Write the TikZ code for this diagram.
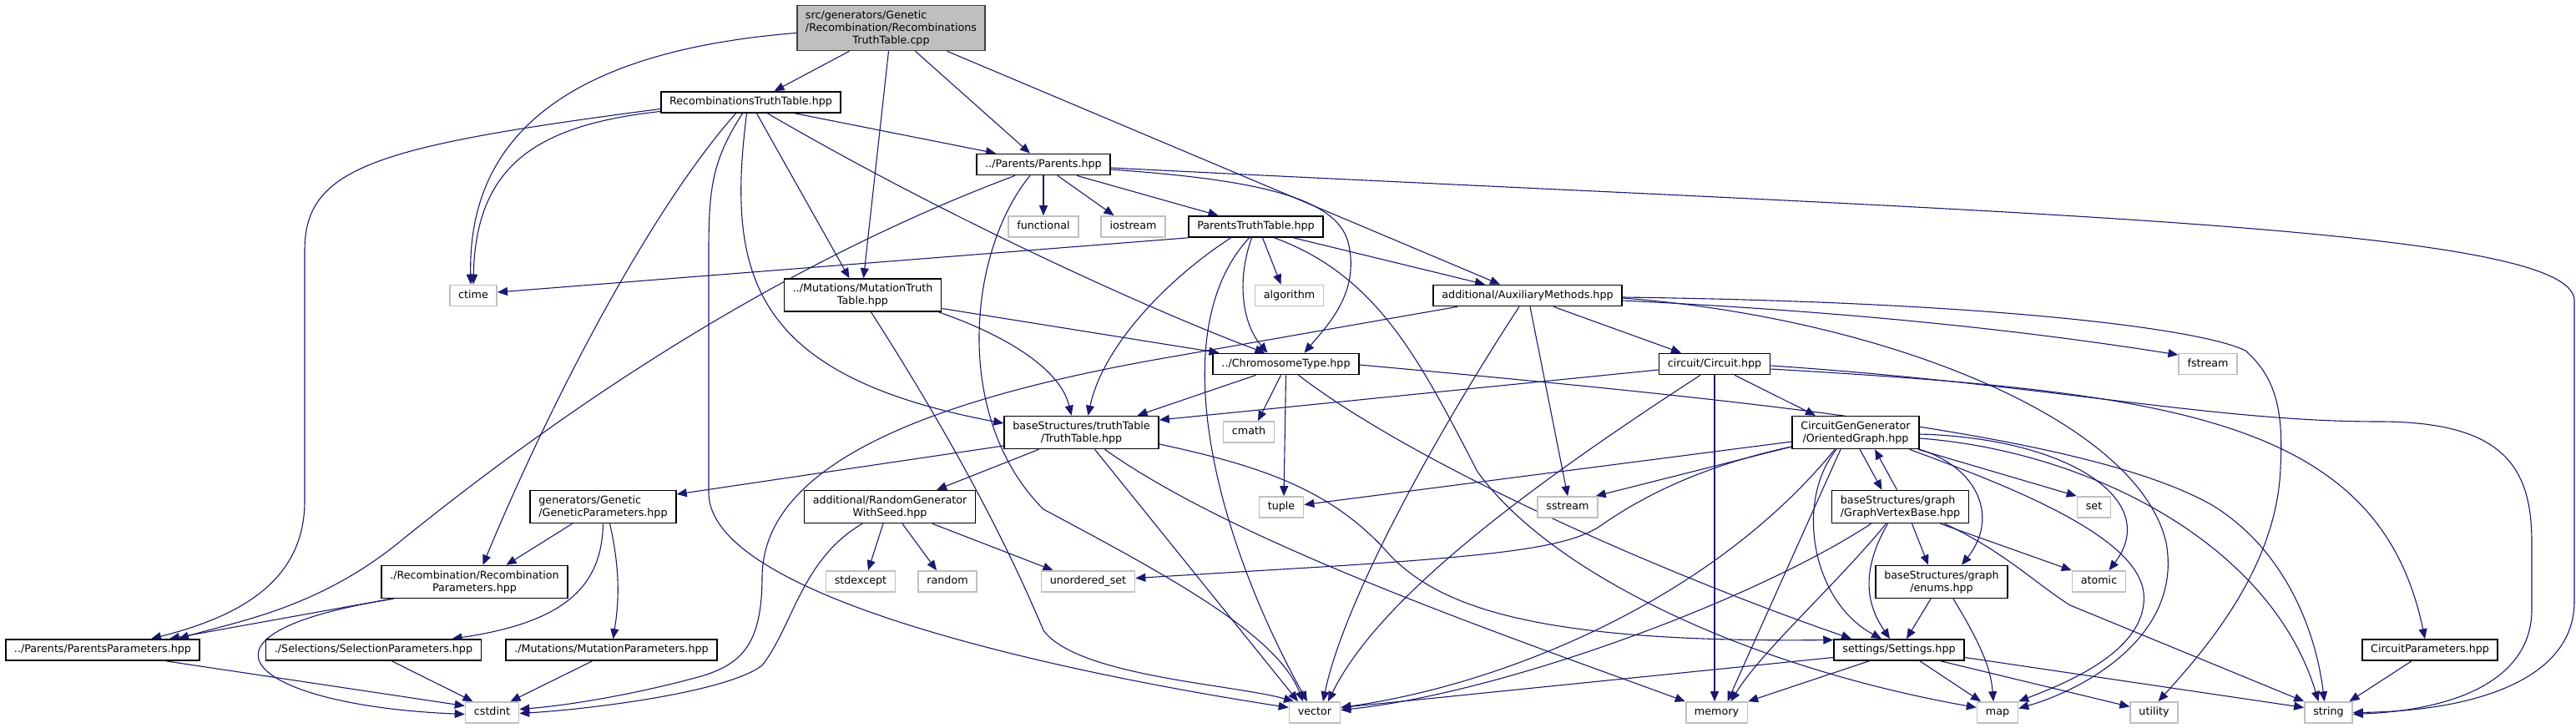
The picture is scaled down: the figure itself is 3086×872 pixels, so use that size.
\documentclass[tikz,border=0pt]{standalone}
\usepackage{fontspec}
\setmainfont{DejaVu Sans}
\usetikzlibrary{arrows.meta,backgrounds}

\definecolor{edgeblue}{HTML}{191970}
\definecolor{sysgrey}{HTML}{BFBFBF}
\definecolor{rootgrey}{HTML}{BFBFBF}
\definecolor{rootline}{HTML}{404040}

% left-justified line, padded to the width of the widest line
\newcommand{\padleft}[2]{\rlap{#1}\phantom{#2}}

\begin{document}
\begin{tikzpicture}[x=1pt, y=-1pt,
    box/.style={font=\fontsize{12.7pt}{15pt}\selectfont, fill=white, inner xsep=10.3pt, inner ysep=5.8pt, line width=1.7pt, align=center},
    doc/.style={box, draw=black, minimum height=25pt, text height=9.6pt, text depth=3pt},
    docm/.style={box, draw=black},
    sys/.style={box, draw=sysgrey, minimum height=25pt, text height=9.6pt, text depth=3pt},
    dep/.style={draw=edgeblue, line width=1.1pt, -{Triangle[length=12pt,width=10pt]}}]
    \useasboundingbox (0,0) rectangle (3086,872);

    % Documented files
    \node[docm, fill=rootgrey, draw=rootline] (root) at (1067.5,33.5) {\padleft{src/generators/Genetic}{/Recombination/Recombinations}\\/Recombination/Recombinations\\TruthTable.cpp};
    \node[doc] (rtt) at (899.5,122.5) {RecombinationsTruthTable.hpp};
    \node[doc] (parents) at (1250,197) {../Parents/Parents.hpp};
    \node[doc] (ptt) at (1504.5,271.5) {ParentsTruthTable.hpp};
    \node[docm] (mutationtt) at (1033.5,353.5) {../Mutations/MutationTruth\\Table.hpp};
    \node[doc] (aux) at (1830,354) {additional/AuxiliaryMethods.hpp};
    \node[doc] (chromo) at (1540.5,436) {../ChromosomeType.hpp};
    \node[doc] (circuit) at (2054,436) {circuit/Circuit.hpp};
    \node[docm] (truthtable) at (1295.5,518) {baseStructures/truthTable\\/TruthTable.hpp};
    \node[docm] (og) at (2223,518) {CircuitGenGenerator\\/OrientedGraph.hpp};
    \node[docm] (gparams) at (722.5,607) {\padleft{generators/Genetic}{/GeneticParameters.hpp}\\/GeneticParameters.hpp};
    \node[docm] (rg) at (1066,607) {additional/RandomGenerator\\WithSeed.hpp};
    \node[docm] (gvb) at (2276.5,607) {\padleft{baseStructures/graph}{/GraphVertexBase.hpp}\\/GraphVertexBase.hpp};
    \node[docm] (recparams) at (568.5,697) {./Recombination/Recombination\\Parameters.hpp};
    \node[docm] (enums) at (2326,697) {baseStructures/graph\\/enums.hpp};
    \node[doc] (pparams) at (123,778.5) {../Parents/ParentsParameters.hpp};
    \node[doc] (selparams) at (447.5,778.5) {./Selections/SelectionParameters.hpp};
    \node[doc] (mutparams) at (732.5,778.5) {./Mutations/MutationParameters.hpp};
    \node[doc] (settings) at (2275,778.5) {settings/Settings.hpp};
    \node[doc] (cparams) at (2911,778.5) {CircuitParameters.hpp};

    % System headers
    \node[sys] (ctime) at (567,354) {ctime};
    \node[sys] (functional) at (1250,271.5) {functional};
    \node[sys] (iostream) at (1357.5,271.5) {iostream};
    \node[sys] (algorithm) at (1544.5,354) {algorithm};
    \node[sys] (fstream) at (2645,436) {fstream};
    \node[sys] (cmath) at (1496,517.5) {cmath};
    \node[sys] (tuple) at (1535,607.5) {tuple};
    \node[sys] (sstream) at (1878,607.5) {sstream};
    \node[sys] (set) at (2508.5,607.5) {set};
    \node[sys] (stdexcept) at (1031,696.5) {stdexcept};
    \node[sys] (random) at (1135,696.5) {random};
    \node[sys] (unordered) at (1303.5,696.5) {unordered\_set};
    \node[sys] (atomic) at (2514.5,696.5) {atomic};
    \node[sys] (cstdint) at (589.5,853.5) {cstdint};
    \node[sys] (vector) at (1575,853.5) {vector};
    \node[sys] (memory) at (2056.5,853.5) {memory};
    \node[sys] (map) at (2393,853.5) {map};
    \node[sys] (utility) at (2580.5,853.5) {utility};
    \node[sys] (string) at (2789.5,853.5) {string};

    \begin{scope}[on background layer]
    % RecombinationsTruthTable.cpp
    \draw[dep] ([yshift=-6pt]root.west) .. controls (700,60) and (560,150) .. ([xshift=-3pt]ctime.north);
    \draw[dep] ([xshift=-50pt]root.south) -- ([xshift=28pt]rtt.north);
    \draw[dep] ([xshift=-3pt]root.south) -- ([xshift=1pt]mutationtt.north);
    \draw[dep] ([xshift=29pt]root.south) -- ([xshift=-16pt]parents.north);
    \draw[dep] ([xshift=67pt]root.south) -- ([xshift=-33pt]aux.north);

    % RecombinationsTruthTable.hpp
    \draw[dep] ([yshift=-11pt]rtt.west) .. controls (640,150) and (570,200) .. (ctime.north);
    \draw[dep] ([yshift=-8pt]rtt.west) .. controls (450,175) and (365,200) .. (365,300) -- (365,600) .. controls (365,700) and (280,740) .. ([xshift=58pt]pparams.north);
    \draw[dep] ([xshift=-18pt]rtt.south) .. controls (780,250) and (660,480) .. ([xshift=10pt]recparams.north);
    \draw[dep] ([xshift=-10pt]rtt.south) .. controls (855,190) and (849,220) .. (849,300) -- (849,590) .. controls (849,720) and (1300,810) .. ([yshift=6pt]vector.west);
    \draw[dep] ([xshift=-5pt]rtt.south) .. controls (870,330) and (900,450) .. ([yshift=11pt]truthtable.west);
    \draw[dep] ([xshift=7pt]rtt.south) -- ([xshift=-16pt]mutationtt.north);
    \draw[dep] ([xshift=20pt]rtt.south) .. controls (1150,270) and (1400,380) .. ([xshift=-25pt]chromo.north);
    \draw[dep] ([xshift=53pt]rtt.south) -- ([xshift=-57pt]parents.north);

    % Parents.hpp
    \draw[dep] (parents.south) -- (functional.north);
    \draw[dep] ([xshift=17pt]parents.south) -- ([xshift=-23pt]iostream.north);
    \draw[dep] ([xshift=40pt]parents.south) -- ([xshift=-45pt]ptt.north);
    \draw[dep] ([xshift=-34pt]parents.south) .. controls (950,310) and (700,470) .. (480,648) .. controls (380,730) and (280,745) .. ([xshift=91pt]pparams.north);
    \draw[dep] ([xshift=-16pt]parents.south) .. controls (1160,300) and (1140,500) .. (1250,610) .. controls (1400,690) and (1530,760) .. ([xshift=-14pt]vector.north);
    \draw[dep] ([yshift=-6pt]parents.east) .. controls (1500,215) and (1600,235) .. (1615,290) .. controls (1630,350) and (1590,390) .. ([xshift=22pt]chromo.north);
    \draw[dep] ([yshift=-4pt]parents.east) .. controls (2400,255) and (3084,270) .. (3084,360) -- (3084,720) .. controls (3084,820) and (2950,852) .. (string.east);

    % ParentsTruthTable.hpp
    \draw[dep] (ptt.south west) -- ([yshift=4pt]ctime.east);
    \draw[dep] ([xshift=-30pt]ptt.south) .. controls (1390,340) and (1320,420) .. ([xshift=8pt]truthtable.north);
    \draw[dep] ([xshift=-8pt]ptt.south) .. controls (1390,400) and (1460,650) .. ([xshift=-9pt]vector.north);
    \draw[dep] ([xshift=-5pt]ptt.south) .. controls (1480,340) and (1490,390) .. ([xshift=-22pt]chromo.north);
    \draw[dep] ([xshift=8pt]ptt.south) -- ([xshift=-10pt]algorithm.north);
    \draw[dep] ([xshift=22pt]ptt.south) .. controls (1650,330) and (1700,430) .. (1770,565) .. controls (1860,690) and (2100,800) .. ([yshift=6pt]map.west);
    \draw[dep] ([xshift=45pt]ptt.south) -- ([xshift=-51pt]aux.north);

    % MutationTruthTable.hpp
    \draw[dep] ([xshift=-4pt]mutationtt.south east) .. controls (1200,400) and (1270,440) .. ([xshift=-12pt]truthtable.north);
    \draw[dep] ([yshift=-16pt]mutationtt.east) -- ([xshift=-80pt]chromo.north);
    \draw[dep] ([xshift=10pt]mutationtt.south) .. controls (1150,540) and (1210,660) .. (1250,755) .. controls (1290,810) and (1480,820) .. ([xshift=-25pt]vector.north);

    % AuxiliaryMethods.hpp
    \draw[dep] ([xshift=-84pt]aux.south) -- (1400,428) .. controls (1100,480) and (915,560) .. (913,690) .. controls (913,770) and (890,795) .. (840,810) .. controls (760,832) and (680,845) .. ([yshift=4pt]cstdint.east);
    \draw[dep] ([xshift=-10pt]aux.south) .. controls (1720,520) and (1610,720) .. ([xshift=10pt]vector.north);
    \draw[dep] ([xshift=3pt]aux.south) -- (sstream.north);
    \draw[dep] ([xshift=31pt]aux.south) -- ([xshift=-40pt]circuit.north);
    \draw[dep] ([yshift=-6pt]aux.east) .. controls (2250,375) and (2450,400) .. ([yshift=11pt]fstream.west);
    \draw[dep] ([yshift=-2pt]aux.east) .. controls (2400,362) and (2640,395) .. (2690,420) .. controls (2730,455) and (2735,500) .. (2732,560) .. controls (2728,680) and (2640,780) .. ([xshift=5pt]utility.north);
    \draw[dep] ([yshift=-3pt]aux.east) .. controls (2250,380) and (2560,500) .. (2595,650) .. controls (2615,760) and (2500,825) .. ([yshift=5pt]map.east);

    % Circuit.hpp
    \draw[dep] ([yshift=-7pt]circuit.west) -- ([yshift=15pt]truthtable.east);
    \draw[dep] ([xshift=-17pt]circuit.south) .. controls (1820,590) and (1650,720) .. ([xshift=16pt]vector.north);
    \draw[dep] (circuit.south) -- ([xshift=-2.5pt]memory.north);
    \draw[dep] ([xshift=24pt]circuit.south) -- ([xshift=-48pt]og.north);
    \draw[dep] ([yshift=-2pt]circuit.east) .. controls (2450,460) and (2650,505) .. (2850,505) .. controls (3000,505) and (3033,560) .. (3033,650) -- (3033,730) .. controls (3033,810) and (2950,850) .. ([yshift=-2pt]string.east);
    \draw[dep] ([yshift=-6pt]circuit.east) .. controls (2600,470) and (2850,500) .. ([xshift=-6pt]cparams.north);

    % ChromosomeType.hpp
    \draw[dep] ([xshift=-36pt]chromo.south) -- ([xshift=67pt]truthtable.north);
    \draw[dep] ([xshift=-6pt]chromo.south) -- ([xshift=11pt]cmath.north);
    \draw[dep] (chromo.south) -- ([xshift=3pt]tuple.north);
    \draw[dep] ([xshift=15pt]chromo.south) .. controls (1700,560) and (2000,690) .. ([xshift=-57pt]settings.north);
    \draw[dep] ([yshift=-1pt]chromo.east) .. controls (2100,480) and (2500,520) .. (2650,605) .. controls (2740,660) and (2775,760) .. ([xshift=-5pt]string.north);

    % TruthTable.hpp
    \draw[dep] ([yshift=-16pt]truthtable.west) -- ([yshift=15pt]gparams.east);
    \draw[dep] ([xshift=-51pt]truthtable.south) -- ([xshift=56pt]rg.north);
    \draw[dep] ([xshift=16pt]truthtable.south) -- ([xshift=-20pt]vector.north);
    \draw[dep] ([xshift=28pt]truthtable.south) .. controls (1480,650) and (1800,760) .. (memory.north west);
    \draw[dep] ([yshift=-14pt]truthtable.east) .. controls (1520,560) and (1600,590) .. (1667,667) .. controls (1730,730) and (1850,770) .. ([yshift=12pt]settings.west);

    % OrientedGraph.hpp
    \draw[dep] ([yshift=-11pt]og.west) -- ([yshift=3pt]tuple.east);
    \draw[dep] ([yshift=-17pt]og.west) -- ([xshift=-3pt]sstream.north east);
    \draw[dep] ([yshift=-17pt]og.west) .. controls (2030,560) and (1960,600) .. (1917,630) .. controls (1880,655) and (1800,665) .. (1600,678) -- ([yshift=4pt]unordered.east);
    \draw[dep] ([xshift=-25pt]og.south) .. controls (2050,720) and (1800,820) .. ([yshift=6pt]vector.east);
    \draw[dep] ([xshift=-18pt]og.south) -- ([xshift=13pt]memory.north);
    \draw[dep] ([xshift=-23pt]og.south) .. controls (2150,600) and (2170,720) .. ([xshift=-21pt]settings.north);
    \draw[dep] ([xshift=5pt]og.south) -- ([xshift=-22pt]gvb.north);
    \draw[dep] ([xshift=-2pt]og.south east) -- (set.north west);
    \draw[dep] ([yshift=-2pt]og.east) .. controls (2480,525) and (2590,600) .. ([xshift=12pt]atomic.north);
    \draw[dep] ([yshift=-7pt]og.east) .. controls (2500,540) and (2720,650) .. ([xshift=-12pt]string.north);
    \draw[dep] ([xshift=-12pt]og.south east) .. controls (2400,580) and (2560,640) .. (2568,710) .. controls (2575,780) and (2470,820) .. (map.north east);
    \draw[dep] (og.south east) .. controls (2370,560) and (2395,620) .. ([xshift=24pt]enums.north);

    % GraphVertexBase.hpp
    \draw[dep] ([xshift=-4pt]gvb.north) -- ([xshift=23pt]og.south);
    \draw[dep] ([xshift=-35pt]gvb.south) .. controls (2100,720) and (1800,830) .. ([yshift=3pt]vector.east);
    \draw[dep] ([xshift=-17pt]gvb.south) .. controls (2200,700) and (2110,780) .. ([xshift=17pt]memory.north);
    \draw[dep] ([xshift=-15pt]gvb.south) .. controls (2225,690) and (2240,730) .. ([xshift=-11pt]settings.north);
    \draw[dep] ([xshift=14pt]gvb.south) -- ([xshift=-16pt]enums.north);
    \draw[dep] ([xshift=48pt]gvb.south) -- (atomic.north west);
    \draw[dep] ([xshift=53pt]gvb.south) .. controls (2400,660) and (2440,700) .. (2480,725) -- (string.north west);

    % enums.hpp
    \draw[dep] ([xshift=-13pt]enums.south) -- ([xshift=9pt]settings.north);
    \draw[dep] ([xshift=14pt]enums.south) .. controls (2372,770) and (2385,800) .. ([xshift=-5pt]map.north);

    % Settings.hpp
    \draw[dep] ([yshift=-9pt]settings.west) -- ([yshift=6pt]vector.east);
    \draw[dep] ([xshift=-36pt]settings.south) -- (memory.north east);
    \draw[dep] ([xshift=25pt]settings.south) -- ([xshift=-20pt]map.north);
    \draw[dep] ([xshift=50pt]settings.south) -- ([yshift=7pt]utility.west);
    \draw[dep] ([yshift=-9pt]settings.east) -- ([yshift=6pt]string.west);

    % CircuitParameters.hpp
    \draw[dep] ([xshift=-22pt]cparams.south) -- ([xshift=25pt]string.north);

    % GeneticParameters.hpp
    \draw[dep] ([xshift=-37pt]gparams.south) -- ([xshift=38pt]recparams.north);
    \draw[dep] (gparams.south) .. controls (721,700) and (680,745) .. ([xshift=94pt]selparams.north);
    \draw[dep] ([xshift=8pt]gparams.south) .. controls (745,690) and (740,730) .. ([xshift=2pt]mutparams.north);

    % RandomGeneratorWithSeed.hpp
    \draw[dep] ([xshift=-8pt]rg.south) -- ([xshift=9pt]stdexcept.north);
    \draw[dep] ([xshift=15pt]rg.south) -- ([xshift=-13pt]random.north);
    \draw[dep] ([xshift=51pt]rg.south) -- ([xshift=-42pt]unordered.north);
    \draw[dep] ([xshift=-33pt]rg.south) .. controls (960,670) and (950,750) .. (913,797) .. controls (870,830) and (700,850) .. ([yshift=-1pt]cstdint.east);

    % RecombinationParameters.hpp
    \draw[dep] ([xshift=-100pt]recparams.south) -- ([xshift=80pt]pparams.north);
    \draw[dep] ([xshift=-97pt]recparams.south) .. controls (200,760) and (300,845) .. ([yshift=-2pt]cstdint.west);

    % Parameters -> cstdint
    \draw[dep] ([xshift=76pt]pparams.south) -- ([yshift=8pt]cstdint.west);
    \draw[dep] ([xshift=22pt]selparams.south) -- ([xshift=-23pt]cstdint.north);
    \draw[dep] ([xshift=-23pt]mutparams.south) -- ([xshift=22pt]cstdint.north);
    \end{scope}
\end{tikzpicture}
\end{document}
